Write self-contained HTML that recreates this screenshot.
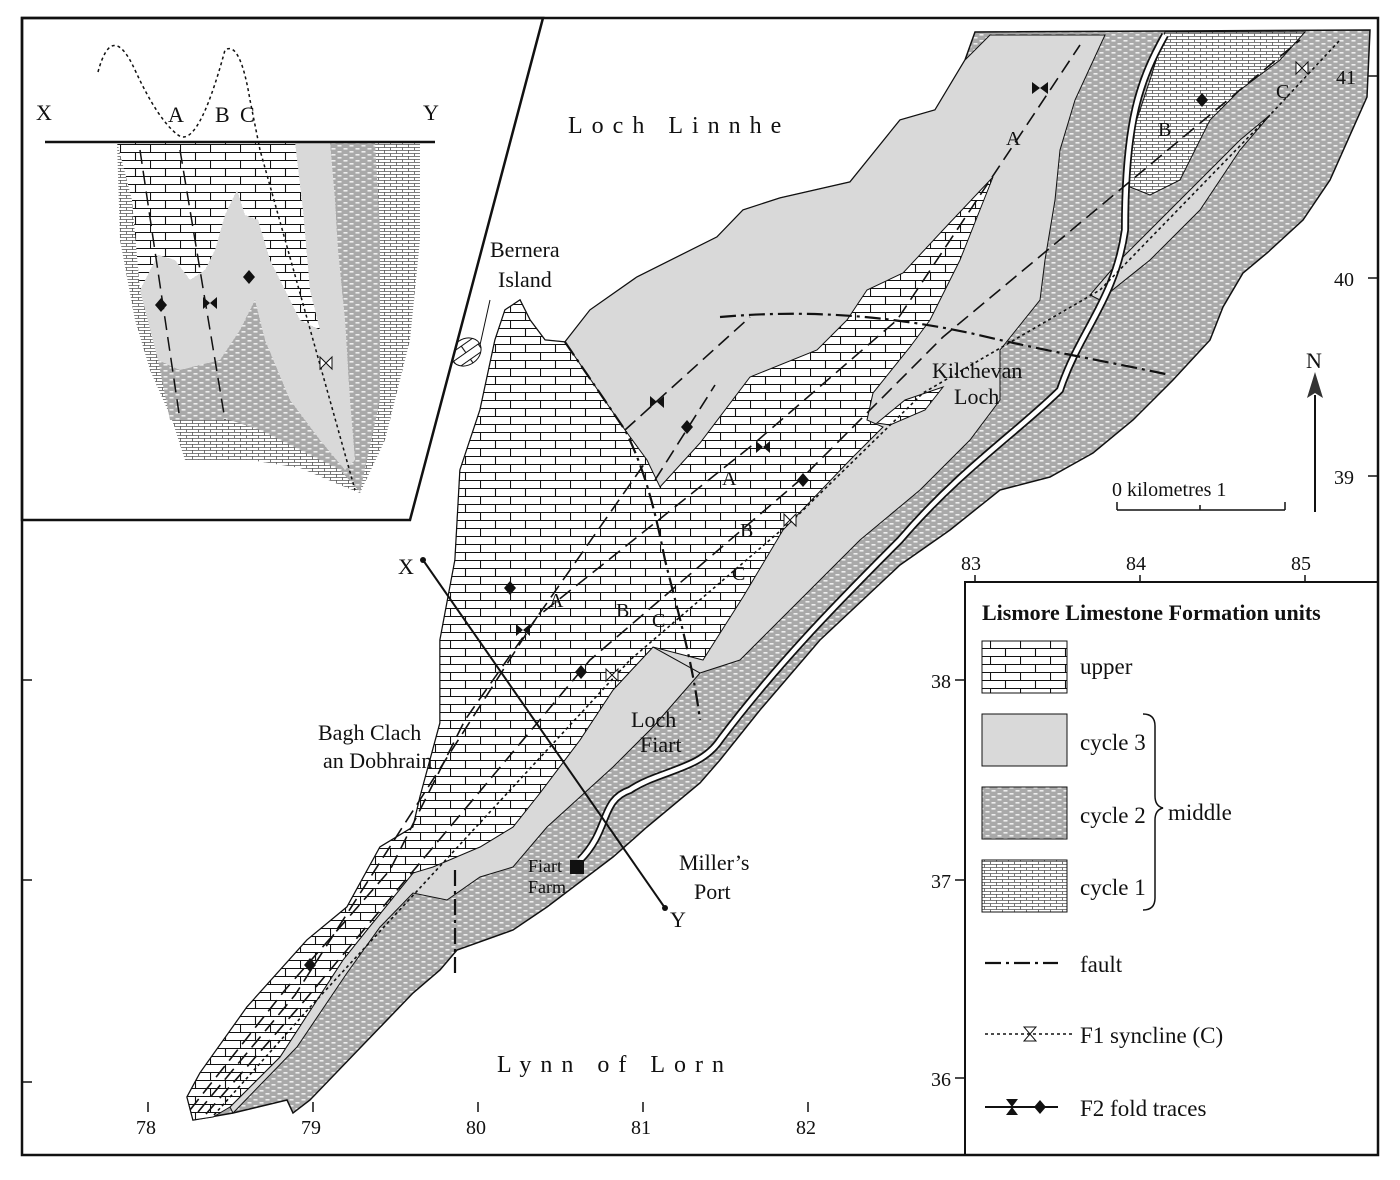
<!DOCTYPE html>
<html><head><meta charset="utf-8"><style>
html,body{margin:0;padding:0;background:#fff}
svg{display:block}
text{font-family:"Liberation Serif",serif;fill:#111}
</style></head><body>
<svg width="1400" height="1180" viewBox="0 0 1400 1180" xmlns="http://www.w3.org/2000/svg">
<defs>
<pattern id="up" width="30" height="16" patternUnits="userSpaceOnUse">
<rect width="30" height="16" fill="#fff"/>
<path d="M0 0.5H30M0 8.5H30M0.5 0V8.5M15.5 8.5V16" stroke="#111" stroke-width="1.1" fill="none"/>
</pattern>
<pattern id="c2" width="12" height="6" patternUnits="userSpaceOnUse">
<rect width="12" height="6" fill="#a9a9a9"/>
<rect x="1.5" y="1" width="4" height="1.6" fill="#eee"/><rect x="7.5" y="4" width="4" height="1.6" fill="#eee"/>
</pattern>
<pattern id="c1" width="12" height="6" patternUnits="userSpaceOnUse">
<rect width="12" height="6" fill="#fff"/>
<path d="M0 0.5H12M0 3.5H12M0.5 0V3.5M6.5 3.5V6" stroke="#555" stroke-width="0.8" fill="none"/>
</pattern>
</defs>
<rect width="1400" height="1180" fill="#fff"/>

<!-- MAP -->
<polygon fill="url(#c2)" stroke="#111" stroke-width="1.5" points="193,1120 187,1097 200,1073 247,1007 307,940 347,907 380,847 413,827 420,797 440,723 440,640 455,560 460,470 480,410 495,340 505,310 520,300 530,320 545,340 565,342 590,310 637,277 717,237 743,210 780,198 850,182 900,120 935,110 965,60 975,32 1370,30 1367,97 1330,180 1303,220 1267,253 1243,273 1223,307 1210,340 1173,380 1133,420 1093,453 1050,477 1000,490 950,530 900,565 820,640 760,710 720,760 700,783 647,827 613,857 547,907 513,930 457,950 440,970 413,993 310,1100 293,1113 287,1100 233,1113"/>
<polygon fill="url(#c1)" stroke="#111" points="1165,32 1305,32 1280,60 1240,90 1210,120 1180,180 1150,195 1125,185 1130,140 1150,80"/>
<polygon fill="#d9d9d9" stroke="#111" points="1270,115 1240,150 1200,210 1150,260 1100,300 1090,295 1120,260 1180,200 1240,140"/>
<polygon fill="#d9d9d9" stroke="#111" points="565,342 590,310 637,277 717,237 743,210 780,198 850,182 900,120 935,110 965,60 990,35 1105,35 1075,100 1060,150 1055,200 1045,260 1040,300 1000,350 1000,400 970,440 920,490 860,540 800,600 740,660 700,673 653,700 600,600"/>
<polygon fill="#d9d9d9" stroke="#111" points="230,1107 280,1057 343,960 367,930 413,873 480,847 513,827 540,793 580,740 613,690 653,647 700,673 653,727 613,767 580,797 547,827 513,867 480,877 447,900 413,893 380,927 347,973 297,1047 233,1113"/>
<polygon fill="url(#up)" stroke="#111" points="193,1120 187,1097 200,1073 247,1007 307,940 347,907 380,847 413,827 420,797 440,723 440,640 455,560 460,470 480,410 495,340 505,310 520,300 530,320 545,340 565,342 625,430 647,460 660,487 700,443 750,377 817,350 847,320 867,290 903,273 943,230 993,177 960,260 930,320 910,347 873,393 867,420 883,427 850,460 783,530 743,597 703,660 653,647 613,690 580,740 540,793 513,827 480,847 433,867 413,873 367,930 343,960 280,1057 230,1107 213,1117"/>
<polygon fill="url(#up)" stroke="#111" points="877,423 905,400 943,387 925,410 890,425"/>
<ellipse cx="466" cy="352" rx="16" ry="13" fill="url(#up)" stroke="#111" transform="rotate(-35 466 352)"/>
<line x1="480" y1="345" x2="490" y2="300" stroke="#111"/>

<!-- road -->
<path d="M1165,35 C1140,80 1125,120 1125,230 C1115,300 1080,330 1060,390 C1020,430 960,470 900,540 C850,590 780,660 720,740 C700,770 660,770 630,790 C600,800 610,830 580,860" fill="none" stroke="#111" stroke-width="8"/>
<path d="M1165,35 C1140,80 1125,120 1125,230 C1115,300 1080,330 1060,390 C1020,430 960,470 900,540 C850,590 780,660 720,740 C700,770 660,770 630,790 C600,800 610,830 580,860" fill="none" stroke="#fff" stroke-width="4.5"/>
<rect x="570" y="860" width="14" height="14" fill="#111"/>

<!-- faults -->
<g fill="none" stroke="#111" stroke-width="2.2" stroke-dasharray="16,5,3,5">
<path d="M720,317 C800,310 880,314 970,333 C1040,350 1110,362 1170,375"/>
<path d="M565,342 L625,430 C645,470 655,510 665,560 C680,620 692,660 700,720"/>
<path d="M455,870 L455,975"/>
</g>
<!-- fold traces -->
<g fill="none" stroke="#111" stroke-width="1.6">
<path d="M190,1110 L285,990 L390,870 L465,720 L647,460" stroke-dasharray="14,7"/>
<path d="M198,1112 L295,995 L537,617 L750,447 L897,320 L1080,45" stroke-dasharray="14,7"/>
<path d="M206,1114 L305,1000 L590,660 L800,480 L943,337 L1300,40" stroke-dasharray="14,7"/>
<path d="M625,430 L750,317" stroke-dasharray="14,7"/>
<path d="M655,480 L715,385" stroke-dasharray="14,7"/>
<path d="M214,1115 L312,1005 L630,660 L793,520 L923,393 L1100,290 L1270,115 L1340,40" stroke-dasharray="3,3"/>
</g>
<g fill="#111">
<path d="M1040,88 l-8,-6 v12z M1040,88 l8,-6 v12z"/>
<path d="M657,402 l-7,-6 v12z M657,402 l7,-6 v12z"/>
<path d="M763,447 l-7,-6 v12z M763,447 l7,-6 v12z"/>
<path d="M523,630 l-7,-6 v12z M523,630 l7,-6 v12z"/>
<path d="M681,427 l6,-7 l6,7 l-6,7z"/>
<path d="M797,480 l6,-7 l6,7 l-6,7z"/>
<path d="M504,588 l6,-7 l6,7 l-6,7z"/>
<path d="M575,672 l6,-7 l6,7 l-6,7z"/>
<path d="M304,965 l6,-7 l6,7 l-6,7z"/>
<path d="M1196,100 l6,-7 l6,7 l-6,7z"/>
</g>
<path d="M612,675 l-6,-6 v12z M612,675 l6,-6 v12z M790,520 l-6,-6 v12z M790,520 l6,-6 v12z M1302,68 l-6,-6 v12z M1302,68 l6,-6 v12z" fill="#fff" stroke="#111"/>

<!-- XY line -->
<line x1="423" y1="560" x2="665" y2="908" stroke="#111" stroke-width="2"/>
<circle cx="423" cy="560" r="3" fill="#111"/><circle cx="665" cy="908" r="3" fill="#111"/>

<!-- labels -->
<g font-size="24">
<text x="568" y="133" letter-spacing="9">Loch  Linnhe</text>
<text x="497" y="1072" letter-spacing="9">Lynn  of  Lorn</text>
</g>
<g font-size="22">
<text x="490" y="257">Bernera</text><text x="498" y="287">Island</text>
<text x="318" y="740">Bagh Clach</text><text x="323" y="768">an Dobhrain</text>
<text x="932" y="378">Kilchevan</text><text x="954" y="404">Loch</text>
<text x="631" y="727">Loch</text><text x="640" y="752">Fiart</text>
<text x="679" y="870">Miller’s</text><text x="694" y="899">Port</text>
<text x="398" y="574">X</text><text x="670" y="927">Y</text>
<text x="1306" y="368">N</text>
<text x="1112" y="496" font-size="20">0   kilometres   1</text>
</g>
<g font-size="18"><text x="528" y="872">Fiart</text><text x="528" y="893">Farm</text></g>
<g font-size="20">
<text x="1006" y="145">A</text><text x="1158" y="136">B</text><text x="1276" y="98">C</text>
<text x="722" y="485">A</text><text x="740" y="537">B</text><text x="732" y="580">C</text>
<text x="549" y="607">A</text><text x="616" y="617">B</text><text x="652" y="627">C</text>
</g>
<!-- north arrow -->
<line x1="1315" y1="395" x2="1315" y2="512" stroke="#111" stroke-width="2"/>
<path d="M1315,372 l-8,26 l8,-5 l8,5z" fill="#333"/>
<!-- scale -->
<path d="M1117,510 H1285 M1117,502 V510 M1200,505 V510 M1285,502 V510" stroke="#111" fill="none" stroke-width="1.5"/>

<!-- grid labels -->
<g font-size="20">
<text x="136" y="1134">78</text><text x="301" y="1134">79</text><text x="466" y="1134">80</text><text x="631" y="1134">81</text><text x="796" y="1134">82</text>
<text x="961" y="570">83</text><text x="1126" y="570">84</text><text x="1291" y="570">85</text>
<text x="1336" y="84">41</text><text x="1334" y="286">40</text><text x="1334" y="484">39</text>
<text x="931" y="688">38</text><text x="931" y="888">37</text><text x="931" y="1086">36</text>
</g>
<g stroke="#111" stroke-width="1.5">
<path d="M148,1102V1112M313,1102V1112M478,1102V1112M643,1102V1112M808,1102V1112"/>
<path d="M975,575V584M1140,575V584M1305,575V584"/>
<path d="M1368,76H1378M1368,278H1378M1368,476H1378"/>
<path d="M955,680H965M955,880H965M955,1078H965"/>
<path d="M22,680H32M22,880H32M22,1082H32"/>
</g>

<!-- legend -->
<rect x="965" y="582" width="413" height="573" fill="#fff" stroke="#111" stroke-width="2"/>
<text x="982" y="620" font-size="22" font-weight="bold">Lismore Limestone Formation units</text>
<rect x="982" y="641" width="85" height="52" fill="url(#up)" stroke="#111"/>
<rect x="982" y="714" width="85" height="52" fill="#d9d9d9" stroke="#111"/>
<rect x="982" y="787" width="85" height="52" fill="url(#c2)" stroke="#111"/>
<rect x="982" y="860" width="85" height="52" fill="url(#c1)" stroke="#111"/>
<g font-size="23">
<text x="1080" y="674">upper</text><text x="1080" y="750">cycle 3</text><text x="1080" y="823">cycle 2</text><text x="1080" y="895">cycle 1</text>
<text x="1168" y="820">middle</text>
<text x="1080" y="972">fault</text><text x="1080" y="1043">F1 syncline (C)</text><text x="1080" y="1116">F2 fold traces</text>
</g>
<path d="M1143,714 q12,0 12,12 v70 q0,10 8,12 q-8,2 -8,12 v78 q0,12 -12,12" fill="none" stroke="#111" stroke-width="1.5"/>
<path d="M985,963 H1058" stroke="#111" stroke-width="2.2" stroke-dasharray="16,5,3,5"/>
<path d="M985,1034 H1075" stroke="#111" stroke-width="1.5" stroke-dasharray="3,3"/>
<path d="M1030,1034 l-6,-7 h12z M1030,1034 l-6,7 h12z" fill="#fff" stroke="#111"/>
<path d="M985,1107 H1058" stroke="#111" stroke-width="2"/>
<path d="M1012,1107 l-6,-8 h12z M1012,1107 l-6,8 h12z M1040,1100 l6,7 l-6,7 l-6,-7z" fill="#111"/>

<!-- inset -->
<polygon points="22,18 543,18 410,520 22,520" fill="#fff" stroke="#111" stroke-width="2.5"/>
<polygon points="117,142 420,142 420,240 410,340 385,440 360,493 340,485 300,468 250,460 185,460 172,420 150,370 135,320 120,240" fill="url(#c1)"/>
<polygon fill="url(#c2)" points="330,142 375,142 380,230 380,400 360,492 340,470 300,450 260,430 230,420 200,420 170,420 158,360 180,370 220,360 240,330 255,300 265,340 290,400 320,440 345,470 355,460 350,400 345,320 338,250 335,200"/>
<polygon fill="#d9d9d9" points="140,290 158,255 175,260 190,280 205,270 215,250 225,215 237,190 245,215 258,220 270,260 285,290 300,320 320,330 310,290 303,210 295,142 330,142 335,200 338,250 345,320 350,400 355,460 345,470 320,440 290,400 265,340 255,300 240,330 220,360 180,370 158,360"/>
<polygon fill="url(#up)" points="117,142 295,142 303,210 310,290 320,330 300,320 285,290 270,260 258,220 245,215 237,190 225,215 215,250 205,270 190,280 175,260 158,255 140,290 132,200"/>
<line x1="45" y1="142" x2="435" y2="142" stroke="#111" stroke-width="2.5"/>
<path d="M98,72 Q112,20 135,70 T178,135 T225,50 Q240,40 250,100 L260,150 L355,490" fill="none" stroke="#111" stroke-width="1.5" stroke-dasharray="3,3"/>
<path d="M140,150 L180,420 M180,150 L225,420" fill="none" stroke="#111" stroke-width="1.5" stroke-dasharray="14,7"/>
<g fill="#111">
<path d="M155,305 l6,-7 l6,7 l-6,7z M243,277 l6,-7 l6,7 l-6,7z"/>
<path d="M210,303 l-7,-6 v12z M210,303 l7,-6 v12z"/>
</g>
<path d="M326,363 l-6,-6 v12z M326,363 l6,-6 v12z" fill="#fff" stroke="#111"/>
<g font-size="22"><text x="36" y="120">X</text><text x="168" y="122">A</text><text x="215" y="122">B</text><text x="240" y="122">C</text><text x="423" y="120">Y</text></g>

<!-- frame -->
<rect x="22" y="18" width="1356" height="1137" fill="none" stroke="#111" stroke-width="2.5"/>
</svg>
</body></html>
